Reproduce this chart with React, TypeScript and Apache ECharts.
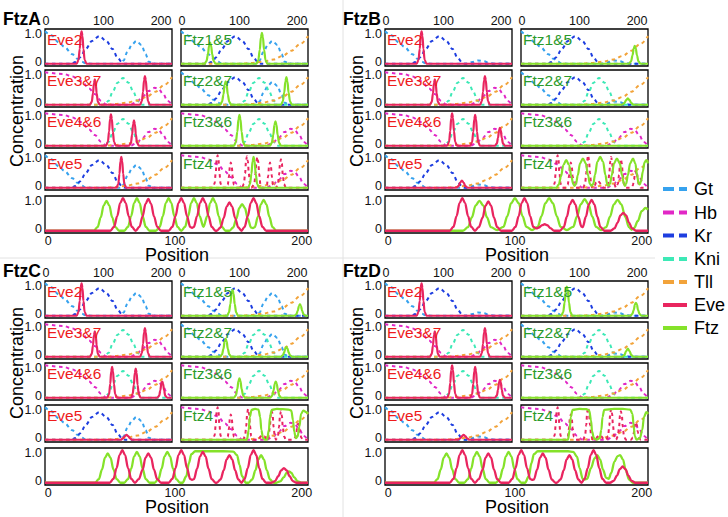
import React, { useEffect, useRef } from "react";
import * as echarts from "echarts";

type Pt = [number, number];

const FONT = "'Liberation Sans', Arial, Helvetica, sans-serif";
const GENE_NAMES = ["Gt", "Hb", "Kr", "Kni", "Tll", "Eve", "Ftz"];
const GENE_COLORS = ["#36a2ee", "#e128c6", "#1e3ee0", "#3de9b6", "#f2a33a", "#e9255f", "#85e22a"];
const PANEL_TITLES = ["FtzA", "FtzB", "FtzC", "FtzD"];
const EVE_STRIPES = ["Eve2", "Eve3&7", "Eve4&6", "Eve5"];
const FTZ_STRIPES = ["Ftz1&5", "Ftz2&7", "Ftz3&6", "Ftz4"];
const X_TICKS = [0, 100, 200];
const Y_TICKS = [0, 1];
// gap genes drawn in each stripe plot (indices into GENE_NAMES)
const EVE_REGULATORS = [[0, 2], [1, 3, 4], [1, 3, 4], [0, 2, 4]];
const FTZ_REGULATORS = [[0, 2, 4], [0, 2, 3, 4], [1, 3, 4], [1, 4]];

// ---- gap gene profiles (position, concentration) ----
const gtA: Pt[] = [[-1.5, 1.0], [9, 0.88], [23, 0.65], [32, 0.52], [46, 0.29], [55, 0.15], [62, 0.07], [69, 0.01], [79, 0], [128, 0], [135, 0.1], [141, 0.35], [150, 0.6], [157, 0.7], [166, 0.58], [173, 0.3], [179, 0.06], [186, 0], [219, 0]];
const gtB: Pt[] = [[-1.5, 1.0], [9, 0.88], [23, 0.65], [32, 0.52], [46, 0.29], [55, 0.15], [62, 0.07], [69, 0.01], [79, 0], [140, 0], [150, 0.05], [160, 0.1], [170, 0.08], [180, 0.02], [188, 0], [219, 0]];
const hbA: Pt[] = [[-1.5, 1.0], [30, 0.95], [46, 0.87], [62, 0.72], [75, 0.5], [85, 0.33], [96, 0.12], [104, 0.01], [110, 0], [147, 0], [157, 0.08], [168, 0.24], [178, 0.42], [189, 0.52], [196, 0.48], [204, 0.32], [211, 0.12], [219, 0]];
const krA: Pt[] = [[-1.5, 0], [45, 0], [51, 0.05], [60, 0.2], [69, 0.45], [80, 0.7], [93, 0.85], [105, 0.7], [116, 0.45], [124, 0.2], [132, 0.05], [137, 0], [219, 0]];
const kniA: Pt[] = [[-1.5, 0], [101, 0], [109, 0.12], [116, 0.4], [124.5, 0.68], [134, 0.82], [143.5, 0.68], [152, 0.4], [159, 0.12], [167, 0], [219, 0]];
const tllA: Pt[] = [[-1.5, 0], [100, 0], [120, 0.02], [140, 0.06], [159, 0.13], [175, 0.24], [190, 0.4], [205, 0.6], [219, 0.85]];

// ---- single-module stripe outputs (small plots) ----
const eve2A: Pt[] = [[53.5, 0], [56.7, 0.12], [58.8, 0.45], [60.4, 0.85], [62, 1.0], [63.6, 0.85], [65.2, 0.45], [67.3, 0.12], [70.5, 0]];
const eve37A: Pt[] = [[76.5, 0], [79.7, 0.09], [81.8, 0.35], [83.4, 0.66], [85, 0.78], [86.6, 0.66], [88.2, 0.35], [90.3, 0.09], [93.5, 0], [163.5, 0], [166.7, 0.11], [168.8, 0.4], [170.4, 0.75], [172, 0.88], [173.6, 0.75], [175.2, 0.4], [177.3, 0.11], [180.5, 0]];
const eve46A: Pt[] = [[104.5, 0], [107.7, 0.12], [109.8, 0.44], [111.4, 0.82], [113, 0.97], [114.6, 0.82], [116.2, 0.44], [118.3, 0.12], [121.5, 0], [144.5, 0], [147.7, 0.09], [149.8, 0.35], [151.4, 0.66], [153, 0.78], [154.6, 0.66], [156.2, 0.35], [158.3, 0.09], [161.5, 0]];
const eve5A: Pt[] = [[122.5, 0], [125.7, 0.11], [127.8, 0.43], [129.4, 0.81], [131, 0.95], [132.6, 0.81], [134.2, 0.43], [136.3, 0.11], [139.5, 0]];
const eve46B: Pt[] = [[106.5, 0], [109.7, 0.12], [111.8, 0.45], [113.4, 0.85], [115, 1.0], [116.6, 0.85], [118.2, 0.45], [120.3, 0.12], [123.5, 0], [146.5, 0], [149.7, 0.11], [151.8, 0.43], [153.4, 0.81], [155, 0.95], [156.6, 0.81], [158.2, 0.43], [160.3, 0.11], [163.5, 0], [189.5, 0], [192.7, 0.07], [194.8, 0.25], [196.4, 0.47], [198, 0.55], [199.6, 0.47], [201.2, 0.25], [203.3, 0.07], [206.5, 0]];
const eve5B: Pt[] = [[122, 0], [126, 0.05], [129, 0.16], [132, 0.22], [135, 0.16], [138, 0.05], [142, 0]];
const eve46C: Pt[] = [[106.5, 0], [109.7, 0.11], [111.8, 0.43], [113.4, 0.81], [115, 0.95], [116.6, 0.81], [118.2, 0.43], [120.3, 0.11], [123.5, 0], [147.5, 0], [150.7, 0.11], [152.8, 0.4], [154.4, 0.77], [156, 0.9], [157.6, 0.77], [159.2, 0.4], [161.3, 0.11], [164.5, 0], [193.5, 0], [196.7, 0.06], [198.8, 0.23], [200.4, 0.43], [202, 0.5], [203.6, 0.43], [205.2, 0.23], [207.3, 0.06], [210.5, 0]];
const eve5C: Pt[] = [[130, 0], [134, 0.04], [137, 0.11], [140, 0.15], [143, 0.11], [146, 0.04], [150, 0]];
const eve5D: Pt[] = [[125, 0], [129, 0.04], [132, 0.11], [135, 0.15], [138, 0.11], [141, 0.04], [145, 0]];

const ftz15A: Pt[] = [[39.5, 0], [42.7, 0.08], [45.3, 0.29], [47.2, 0.55], [49, 0.65], [50.8, 0.55], [52.7, 0.29], [55.3, 0.08], [58.5, 0], [129.5, 0], [132.7, 0.11], [135.3, 0.43], [137.2, 0.81], [139, 0.95], [140.8, 0.81], [142.7, 0.43], [145.3, 0.11], [148.5, 0]];
const ftz27A: Pt[] = [[66.5, 0], [69.7, 0.09], [72.3, 0.32], [74.2, 0.61], [76, 0.72], [77.8, 0.61], [79.7, 0.32], [82.3, 0.09], [85.5, 0], [172, 0], [175.2, 0.1], [177.8, 0.38], [179.7, 0.72], [181.5, 0.85], [183.3, 0.72], [185.2, 0.38], [187.8, 0.1], [191, 0]];
const ftz36A: Pt[] = [[90.5, 0], [93.7, 0.11], [96.3, 0.43], [98.2, 0.81], [100, 0.95], [101.8, 0.81], [103.7, 0.43], [106.3, 0.11], [109.5, 0], [153, 0], [156.2, 0.09], [158.8, 0.34], [160.7, 0.64], [162.5, 0.75], [164.3, 0.64], [166.2, 0.34], [168.8, 0.09], [172, 0]];
const ftz4A: Pt[] = [[115, 0], [118.2, 0.11], [120.8, 0.43], [122.7, 0.81], [124.5, 0.95], [126.3, 0.81], [128.2, 0.43], [130.8, 0.11], [134, 0]];
const ftz15B: Pt[] = [[186, 0], [189.5, 0.07], [192.2, 0.26], [194.2, 0.47], [196, 0.55], [197.8, 0.47], [199.8, 0.26], [202.5, 0.07], [206, 0]];
const ftz27B: Pt[] = [[174, 0], [178, 0.05], [181, 0.14], [184, 0.2], [187, 0.14], [190, 0.05], [194, 0]];
const ftz36B: Pt[] = [];
const ftz4B: Pt[] = [[60, 0], [64, 0.1], [68, 0.35], [72, 0.7], [77, 0.85], [82, 0.7], [86, 0.35], [89, 0.12], [91.5, 0.06], [94, 0.12], [97, 0.38], [101, 0.75], [106, 0.9], [111, 0.75], [115, 0.38], [118, 0.12], [121, 0.06], [124, 0.12], [127, 0.4], [131, 0.8], [136, 0.95], [141, 0.8], [145, 0.4], [148, 0.12], [150.5, 0.06], [153, 0.12], [156, 0.38], [160, 0.75], [165, 0.9], [170, 0.75], [174, 0.38], [177, 0.12], [179, 0.06], [181, 0.12], [184, 0.38], [188, 0.75], [193, 0.9], [197, 0.75], [200, 0.4], [202.5, 0.15], [204.5, 0.1], [207, 0.2], [210, 0.5], [213, 0.78], [216, 0.85], [219, 0.75]];
const ftz15C: Pt[] = [[78.5, 0], [81.7, 0.1], [84.3, 0.36], [86.2, 0.68], [88, 0.8], [89.8, 0.68], [91.7, 0.36], [94.3, 0.1], [97.5, 0], [195.5, 0], [198.7, 0.04], [201.3, 0.16], [203.2, 0.3], [205, 0.35], [206.8, 0.3], [208.7, 0.16], [211.3, 0.04], [214.5, 0]];
const ftz27C: Pt[] = [[66.5, 0], [69.7, 0.07], [72.3, 0.25], [74.2, 0.47], [76, 0.55], [77.8, 0.47], [79.7, 0.25], [82.3, 0.07], [85.5, 0], [172, 0], [175.2, 0.04], [177.8, 0.14], [179.7, 0.26], [181.5, 0.3], [183.3, 0.26], [185.2, 0.14], [187.8, 0.04], [191, 0]];
const ftz36C: Pt[] = [[90.5, 0], [93.7, 0.07], [96.3, 0.27], [98.2, 0.51], [100, 0.6], [101.8, 0.51], [103.7, 0.27], [106.3, 0.07], [109.5, 0], [153.5, 0], [156.7, 0.06], [159.3, 0.23], [161.2, 0.43], [163, 0.5], [164.8, 0.43], [166.7, 0.23], [169.3, 0.06], [172.5, 0]];
const ftz4C: Pt[] = [[113, 0], [116, 0.3], [118, 0.7], [121, 0.92], [127, 0.95], [133, 0.93], [136, 0.7], [138, 0.3], [141, 0.05], [144, 0], [148, 0], [151, 0.3], [153, 0.7], [156, 0.92], [165, 0.95], [175, 0.94], [185, 0.93], [190, 0.9], [193, 0.6], [195, 0.25], [198, 0.05], [201, 0.1], [204, 0.4], [207, 0.8], [211, 0.9], [216, 0.85], [219, 0.8]];
const ftz15D: Pt[] = [[68.5, 0], [71.7, 0.11], [74.3, 0.41], [76.2, 0.77], [78, 0.9], [79.8, 0.77], [81.7, 0.41], [84.3, 0.11], [87.5, 0], [188.5, 0], [191.7, 0.05], [194.3, 0.18], [196.2, 0.34], [198, 0.4], [199.8, 0.34], [201.7, 0.18], [204.3, 0.05], [207.5, 0]];
const ftz27D: Pt[] = [[174, 0], [178, 0.05], [181, 0.17], [184, 0.25], [187, 0.17], [190, 0.05], [194, 0]];
const ftz36D: Pt[] = [];
const ftz4D: Pt[] = [[80, 0], [83, 0.3], [85, 0.7], [88, 0.92], [100, 0.95], [112, 0.94], [117, 0.9], [120, 0.6], [122, 0.25], [125, 0.05], [130, 0], [135, 0.05], [138, 0.3], [140, 0.7], [143, 0.92], [160, 0.95], [175, 0.95], [188, 0.93], [192, 0.8], [194, 0.45], [196, 0.12], [199, 0], [205, 0.05], [209, 0.3], [212, 0.7], [216, 0.85], [219, 0.8]];

// ---- full patterns (bottom plots) ----
const eveBotA: Pt[] = [[49, 0], [52, 0.12], [54.5, 0.45], [56.8, 0.85], [59, 1.0], [61.2, 0.85], [63.5, 0.45], [66, 0.12], [69, 0], [72, 0.12], [74.5, 0.44], [76.8, 0.83], [79, 0.98], [81.2, 0.83], [83.5, 0.44], [86, 0.12], [89, 0], [95, 0], [98, 0.12], [100.5, 0.45], [102.8, 0.85], [105, 1.0], [107.2, 0.85], [109.5, 0.45], [112, 0.12], [113.5, 0.09], [115, 0.12], [117.5, 0.45], [119.8, 0.85], [122, 1.0], [124.2, 0.85], [126.5, 0.45], [129, 0.12], [132, 0], [133, 0], [136, 0.1], [138.5, 0.39], [140.8, 0.74], [143, 0.87], [145.2, 0.74], [147.5, 0.39], [150, 0.1], [152.5, 0], [155, 0.12], [157.5, 0.45], [159.8, 0.85], [162, 1.0], [164.2, 0.85], [166.5, 0.45], [169, 0.12], [172, 0]];
const ftzBotA: Pt[] = [[36, 0], [39, 0.11], [41.5, 0.41], [43.8, 0.78], [46, 0.92], [48.2, 0.78], [50.5, 0.41], [53, 0.11], [56, 0], [60, 0], [63, 0.12], [65.5, 0.45], [67.8, 0.85], [70, 1.0], [72.2, 0.85], [74.5, 0.45], [77, 0.12], [80, 0], [85, 0], [88, 0.12], [90.5, 0.45], [92.8, 0.85], [95, 1.0], [97.2, 0.85], [99.5, 0.45], [102, 0.12], [105, 0], [108, 0.12], [110.5, 0.45], [112.8, 0.85], [115, 1.0], [117.2, 0.85], [119.5, 0.45], [122.5, 0.12], [125.5, 0.45], [127.8, 0.85], [130, 1.0], [132.2, 0.85], [134.5, 0.45], [137, 0.12], [140, 0], [143, 0], [146, 0.1], [148.5, 0.37], [150.8, 0.7], [153, 0.82], [155.2, 0.7], [157.5, 0.37], [160, 0.1], [161.5, 0.08], [163, 0.11], [165.5, 0.43], [167.8, 0.81], [170, 0.95], [172.2, 0.81], [174.5, 0.43], [177, 0.11], [180, 0]];
const eveBotB: Pt[] = [[48.5, 0], [51.5, 0.12], [54, 0.45], [56.3, 0.85], [58.5, 1.0], [60.7, 0.85], [63, 0.45], [65.5, 0.12], [68.5, 0], [71.5, 0.11], [74.5, 0.4], [76.8, 0.77], [79, 0.9], [81.2, 0.77], [83.5, 0.4], [86, 0.11], [89, 0], [97.5, 0], [100.5, 0.12], [103, 0.45], [105.3, 0.85], [107.5, 1.0], [109.7, 0.85], [112, 0.45], [114.5, 0.12], [117, 0.07], [119, 0.1], [121.5, 0.17], [123.5, 0.2], [125.5, 0.17], [128, 0.08], [131, 0], [135.5, 0], [138.5, 0.11], [141, 0.43], [143.3, 0.81], [145.5, 0.95], [147.7, 0.81], [150, 0.43], [152.5, 0.13], [153.5, 0.11], [156, 0.43], [158.3, 0.81], [160.5, 0.95], [162.7, 0.81], [165, 0.43], [167.5, 0.11], [170.5, 0], [175.5, 0], [178.5, 0.07], [181, 0.25], [183.3, 0.47], [185.5, 0.55], [187.7, 0.47], [190, 0.25], [192.5, 0.07], [195.5, 0]];
const ftzBotB: Pt[] = [[59, 0], [63, 0.11], [66, 0.41], [69, 0.78], [72, 0.92], [75, 0.78], [78, 0.41], [81, 0.11], [86, 0.02], [91, 0.12], [94, 0.45], [97, 0.85], [100, 1.0], [103, 0.85], [106, 0.45], [109, 0.12], [113.5, 0.02], [118, 0.12], [121, 0.45], [124, 0.85], [127, 1.0], [130, 0.85], [133, 0.45], [136, 0.12], [141, 0.02], [146, 0.12], [149, 0.44], [152, 0.82], [155, 0.97], [158, 0.82], [161, 0.44], [164, 0.12], [168, 0.02], [172, 0.11], [175, 0.43], [178, 0.81], [181, 0.95], [184, 0.81], [187, 0.43], [190, 0.11], [192, 0.03], [194, 0.08], [197, 0.3], [200, 0.6], [203, 0.7], [205, 0.65]];
const eveBotC: Pt[] = [[48.5, 0], [51.5, 0.12], [54, 0.45], [56.3, 0.85], [58.5, 1.0], [60.7, 0.85], [63, 0.45], [65.5, 0.12], [68.5, 0], [71.5, 0.11], [74.5, 0.4], [76.8, 0.77], [79, 0.9], [81.2, 0.77], [83.5, 0.4], [86, 0.11], [89, 0], [95, 0], [98, 0.12], [100.5, 0.45], [102.8, 0.85], [105, 1.0], [107.2, 0.85], [109.5, 0.45], [112, 0.12], [113.5, 0.09], [115, 0.11], [117.5, 0.43], [119.8, 0.81], [122, 0.95], [124.2, 0.81], [126.5, 0.43], [129, 0.11], [132, 0], [133, 0], [136, 0.1], [138.5, 0.38], [140.8, 0.72], [143, 0.85], [145.2, 0.72], [147.5, 0.38], [150, 0.1], [152.5, 0], [155, 0.12], [157.5, 0.45], [159.8, 0.85], [162, 1.0], [164.2, 0.85], [166.5, 0.45], [169, 0.12], [172, 0], [176, 0], [179, 0.05], [181.5, 0.2], [183.8, 0.38], [186, 0.45], [188.2, 0.38], [190.5, 0.2], [193, 0.05], [196, 0]];
const ftzBotC: Pt[] = [[37, 0], [40, 0.11], [42.5, 0.41], [44.8, 0.77], [47, 0.9], [49.2, 0.77], [51.5, 0.41], [54, 0.11], [57, 0], [60, 0], [63, 0.11], [65.5, 0.43], [67.8, 0.81], [70, 0.95], [72.2, 0.81], [74.5, 0.43], [77, 0.11], [80, 0], [84, 0], [87, 0.11], [89.5, 0.43], [91.8, 0.81], [94, 0.95], [96.2, 0.81], [98.5, 0.43], [101, 0.11], [104, 0], [106, 0], [109, 0.2], [111, 0.6], [113, 0.88], [116, 0.97], [122, 0.97], [130, 0.97], [138, 0.97], [146, 0.96], [149, 0.85], [151, 0.55], [153, 0.2], [156, 0], [158, 0], [161, 0.1], [163.5, 0.38], [165.8, 0.72], [168, 0.85], [170.2, 0.72], [172.5, 0.38], [175, 0.1], [178, 0], [180, 0], [183, 0.04], [186, 0.17], [188, 0.3], [190, 0.35], [192, 0.3], [194, 0.17], [197, 0.04], [200, 0]];
const eveBotD: Pt[] = [[48.5, 0], [51.5, 0.12], [54, 0.45], [56.3, 0.85], [58.5, 1.0], [60.7, 0.85], [63, 0.45], [65.5, 0.12], [68.5, 0], [71.5, 0.11], [74.5, 0.4], [76.8, 0.77], [79, 0.9], [81.2, 0.77], [83.5, 0.4], [86, 0.11], [89, 0], [95, 0], [98, 0.12], [100.5, 0.45], [102.8, 0.85], [105, 1.0], [107.2, 0.85], [109.5, 0.45], [112, 0.12], [113.5, 0.09], [115, 0.1], [117.5, 0.4], [119.8, 0.77], [122, 0.9], [124.2, 0.77], [126.5, 0.4], [129, 0.1], [132, 0], [133, 0], [136, 0.1], [138.5, 0.38], [140.8, 0.72], [143, 0.85], [145.2, 0.72], [147.5, 0.38], [150, 0.1], [152.5, 0], [155, 0.12], [157.5, 0.45], [159.8, 0.85], [162, 1.0], [164.2, 0.85], [166.5, 0.45], [169, 0.12], [172, 0], [175, 0], [178, 0.06], [180.5, 0.22], [182.8, 0.42], [185, 0.5], [187.2, 0.42], [189.5, 0.22], [192, 0.06], [195, 0]];
const ftzBotD: Pt[] = [[36, 0], [39, 0.11], [41.5, 0.41], [43.8, 0.77], [46, 0.9], [48.2, 0.77], [50.5, 0.41], [53, 0.11], [56, 0], [60, 0], [63, 0.11], [65.5, 0.43], [67.8, 0.81], [70, 0.95], [72.2, 0.81], [74.5, 0.43], [77, 0.11], [80, 0], [85, 0], [88, 0.11], [90.5, 0.43], [92.8, 0.81], [95, 0.95], [97.2, 0.81], [99.5, 0.43], [102, 0.11], [105, 0], [108, 0], [111, 0.2], [113, 0.6], [115, 0.88], [118, 0.97], [126, 0.97], [134, 0.97], [142, 0.97], [146, 0.95], [149, 0.8], [151, 0.45], [153.5, 0.12], [155, 0.1], [157, 0.12], [160, 0.45], [162.8, 0.75], [165, 0.85], [167.2, 0.72], [169.5, 0.4], [172, 0.15], [174, 0.12], [176, 0.3], [178.5, 0.65], [181, 0.82], [183, 0.85], [185.2, 0.72], [187.5, 0.38], [190, 0.1], [193, 0]];

const PANEL_GAPS = [[gtA, hbA, krA, kniA, tllA], [gtB, hbA, krA, kniA, tllA], [gtA, hbA, krA, kniA, tllA], [gtB, hbA, krA, kniA, tllA]];
const PANEL_EVE = [[eve2A, eve37A, eve46A, eve5A], [eve2A, eve37A, eve46B, eve5B], [eve2A, eve37A, eve46C, eve5C], [eve2A, eve37A, eve46B, eve5D]];
const PANEL_FTZ = [[ftz15A, ftz27A, ftz36A, ftz4A], [ftz15B, ftz27B, ftz36B, ftz4B], [ftz15C, ftz27C, ftz36C, ftz4C], [ftz15D, ftz27D, ftz36D, ftz4D]];
const PANEL_EVE_BOT = [eveBotA, eveBotB, eveBotC, eveBotD];
const PANEL_FTZ_BOT = [ftzBotA, ftzBotB, ftzBotC, ftzBotD];

// ---- layout ----
const OFFSETS = [[0, 0], [340, 0], [0, 252], [340, 252]];
const COL_LEFT = [45, 181];
const ROW_TOP = [29, 70, 111, 153];
const SW = 127, SH = 37;
const BOT_TOP = 196, BOT_W = 263, BOT_H = 37;
const SX_MIN = -1.5, SX_MAX = 219, BX_MIN = -2.5, BX_MAX = 205;
const Y_MIN = -0.07, Y_MAX = 1.07;
const LEGEND_Y = [189, 212.5, 235.5, 259, 282, 305, 328];

function withBase(pts: Pt[], lo: number, hi: number): Pt[] {
  const out: Pt[] = [[lo, 0]];
  pts.forEach((p) => { if (p[0] > lo && p[0] < hi) out.push(p); else if (p[0] >= hi) out.push([hi, p[1]]); });
  if (out[out.length - 1][0] < hi) out.push([hi, 0]);
  return out;
}

function lineSeries(data: Pt[], idx: number, color: string, dashed: boolean, width: number) {
  return {
    type: "line", xAxisIndex: idx, yAxisIndex: idx, data, symbol: "none", showSymbol: false,
    smooth: 0.35, smoothMonotone: "x", silent: true, animation: false,
    lineStyle: { color, width, type: dashed ? [3.5, 3.5] : "solid", cap: "butt" },
    z: dashed ? 2 : 3,
  };
}

const yLabel = {
  show: true, customValues: Y_TICKS, margin: 3, fontSize: 12.5, color: "#111", fontFamily: FONT,
  formatter: (v: number) => (v === 0 ? "{b|0}" : "{t|1.0}"),
  rich: { t: { fontSize: 12.5, fontFamily: FONT, color: "#111", padding: [5, 0, 0, 0] }, b: { fontSize: 12.5, fontFamily: FONT, color: "#111", padding: [0, 0, 4, 0] } },
};

function buildOption() {
  const grid: any[] = [], xAxis: any[] = [], yAxis: any[] = [], series: any[] = [], graphic: any[] = [];
  const txt = (x: number, y: number, text: string, size: number, color: string, extra: any = {}) => ({
    type: "text", x, y, silent: true, rotation: extra.rotation || 0, z: extra.z || 50,
    style: { text, fill: color, fontSize: size, fontFamily: FONT, fontWeight: extra.bold ? "bold" : "normal", align: extra.align || "left", textAlign: extra.align || "left", verticalAlign: "middle", textVerticalAlign: "middle" },
  });
  // separators
  graphic.push({ type: "line", silent: true, shape: { x1: 343, y1: 0, x2: 343, y2: 517 }, style: { stroke: "#e2e2e2", lineWidth: 1 } });
  graphic.push({ type: "line", silent: true, shape: { x1: 0, y1: 258, x2: 655, y2: 258 }, style: { stroke: "#e2e2e2", lineWidth: 1 } });

  PANEL_TITLES.forEach((title, k) => {
    const [ox, oy] = OFFSETS[k];
    const gaps = PANEL_GAPS[k];
    const eves = PANEL_EVE[k];
    const ftzs = PANEL_FTZ[k];
    const eveAll = ([] as Pt[]).concat(...eves).sort((a, b) => a[0] - b[0]);
    for (let r = 0; r < 4; r++) {
      for (let c = 0; c < 2; c++) {
        const idx = grid.length;
        grid.push({ left: ox + COL_LEFT[c], top: oy + ROW_TOP[r], width: SW, height: SH, show: true, borderColor: "#000", borderWidth: 1.3, backgroundColor: "#fff" });
        xAxis.push({ gridIndex: idx, type: "value", min: SX_MIN, max: SX_MAX, position: "top", axisLine: { show: false }, splitLine: { show: false }, axisTick: { show: false }, axisLabel: { show: r === 0, customValues: X_TICKS, fontSize: 12.5, color: "#111", fontFamily: FONT, margin: 2 } });
        yAxis.push({ gridIndex: idx, type: "value", min: Y_MIN, max: Y_MAX, axisLine: { show: false }, splitLine: { show: false }, axisTick: { show: false }, axisLabel: { ...yLabel, show: c === 0 } });
        const regs = c === 0 ? EVE_REGULATORS[r] : FTZ_REGULATORS[r];
        regs.forEach((g) => series.push(lineSeries(gaps[g], idx, GENE_COLORS[g], true, 2)));
        if (c === 1 && r === 3) series.push(lineSeries(withBase(eveAll, SX_MIN, SX_MAX), idx, GENE_COLORS[5], true, 2));
        const stripe = c === 0 ? eves[r] : ftzs[r];
        series.push(lineSeries(withBase(stripe, SX_MIN, SX_MAX), idx, GENE_COLORS[c === 0 ? 5 : 6], false, 2.2));
        graphic.push(txt(ox + COL_LEFT[c] + 2, oy + ROW_TOP[r] + 10, c === 0 ? EVE_STRIPES[r] : FTZ_STRIPES[r], 15.5, c === 0 ? "#ee1b1b" : "#2b9a2b", { z: 100 }));
      }
    }
    const bi = grid.length;
    grid.push({ left: ox + 45, top: oy + BOT_TOP, width: BOT_W, height: BOT_H, show: true, borderColor: "#000", borderWidth: 1.3, backgroundColor: "#fff" });
    xAxis.push({ gridIndex: bi, type: "value", min: BX_MIN, max: BX_MAX, position: "bottom", axisLine: { show: false }, splitLine: { show: false }, axisTick: { show: false }, axisLabel: { show: true, customValues: X_TICKS, fontSize: 12.5, color: "#111", fontFamily: FONT, margin: 1 } });
    yAxis.push({ gridIndex: bi, type: "value", min: Y_MIN, max: Y_MAX, axisLine: { show: false }, splitLine: { show: false }, axisTick: { show: false }, axisLabel: { ...yLabel } });
    series.push(lineSeries(withBase(PANEL_FTZ_BOT[k], BX_MIN, BX_MAX), bi, GENE_COLORS[6], false, 2.3));
    series.push(lineSeries(withBase(PANEL_EVE_BOT[k], BX_MIN, BX_MAX), bi, GENE_COLORS[5], false, 2.3));

    graphic.push(txt(ox + 3, oy + 19, title, 17.5, "#000", { bold: true }));
    graphic.push(txt(ox + 17, oy + 111, "Concentration", 18, "#000", { align: "center", rotation: Math.PI / 2 }));
    graphic.push(txt(ox + 177, oy + 255, "Position", 18, "#000", { align: "center" }));
  });

  GENE_NAMES.forEach((name, i) => {
    const y = LEGEND_Y[i];
    const solid = i >= 5;
    graphic.push({ type: "line", silent: true, shape: { x1: 663, y1: y, x2: 687, y2: y }, style: { stroke: GENE_COLORS[i], lineWidth: 4, lineDash: solid ? null : [11, 5] } });
    graphic.push(txt(694, y, name, 18, "#000"));
  });

  return { animation: false, backgroundColor: "#fff", grid, xAxis, yAxis, series, graphic };
}

export default function App() {
  const ref = useRef<HTMLDivElement>(null);
  useEffect(() => {
    if (!ref.current) return;
    const chart = echarts.init(ref.current, undefined, { renderer: "svg" });
    chart.setOption(buildOption() as any);
    return () => chart.dispose();
  }, []);
  return <div ref={ref} style={{ position: "absolute", left: 0, top: 0, width: 728, height: 517, background: "#fff" }} />;
}
